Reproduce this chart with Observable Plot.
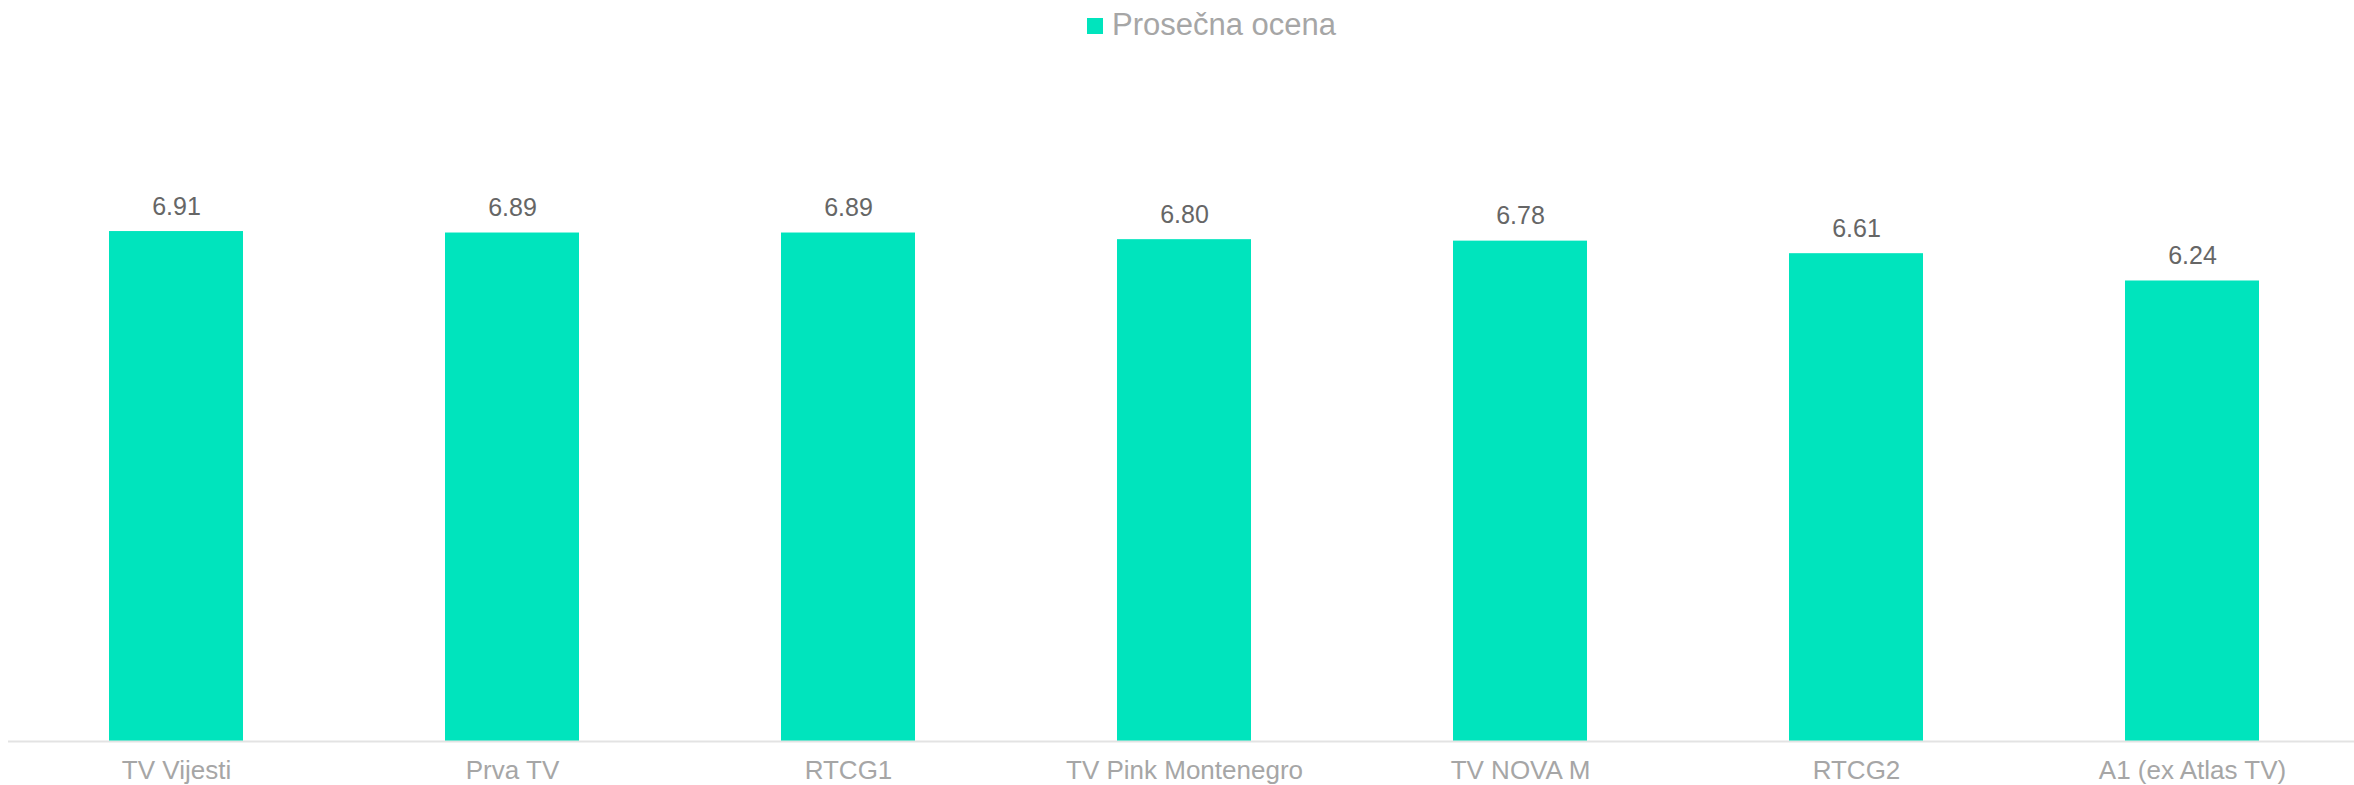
<!DOCTYPE html>
<html>
<head>
<meta charset="utf-8">
<script src="https://cdn.jsdelivr.net/npm/d3@7"></script>
<script src="https://cdn.jsdelivr.net/npm/@observablehq/plot@0.6"></script>
<style>
  html, body { margin: 0; padding: 0; background: #fff; overflow: hidden; }
  #legend { position: relative; width: 2354px; height: 48px; font-family: "Liberation Sans", Arial, sans-serif; }
  #legend .sw { position: absolute; left: 1087px; top: 17.5px; width: 16px; height: 16px; background: #00e4bd; }
  #legend .lb { position: absolute; left: 1112px; top: 8.8px; font-size: 31px; line-height: 31px; color: #a6a6a6; white-space: nowrap; }
  #chart svg { display: block; }
</style>
</head>
<body>
<div id="legend"><div class="sw"></div><div class="lb">Prosečna ocena</div></div>
<div id="chart"></div>
<script>
const categories = ["TV Vijesti", "Prva TV", "RTCG1", "TV Pink Montenegro", "TV NOVA M", "RTCG2", "A1 (ex Atlas TV)"];
const values = [6.91, 6.89, 6.89, 6.80, 6.78, 6.61, 6.24];
const seriesName = "Prosečna ocena";

const data = categories.map((c, i) => ({name: c, value: values[i]}));

const chart = Plot.plot({
  width: 2354,
  height: 737,
  marginLeft: 8,
  marginRight: 0,
  marginTop: 0,
  marginBottom: 44,
  style: {fontFamily: "Liberation Sans, Arial, sans-serif", fontSize: "26px", background: "white"},
  x: {type: "band", domain: categories, range: [8, 2360], paddingInner: 0.6, paddingOuter: 0.3, label: null},
  y: {domain: [0, 9], range: [693, 28.8], axis: null},
  marks: [
    Plot.barY(data, {x: "name", y: "value", fill: "#00e4bd"}),
    Plot.ruleY([0], {stroke: "#e3e3e3", strokeWidth: 2}),
    Plot.text(data, {x: "name", y: "value", text: d => d.value.toFixed(2), dy: -17, lineAnchor: "bottom", fontSize: 25, fill: "#666666"}),
    Plot.axisX({tickSize: 0, tickPadding: 19.5, fontSize: 26, color: "#a6a6a6", label: null})
  ]
});
document.getElementById("chart").appendChild(chart);
</script>
</body>
</html>
